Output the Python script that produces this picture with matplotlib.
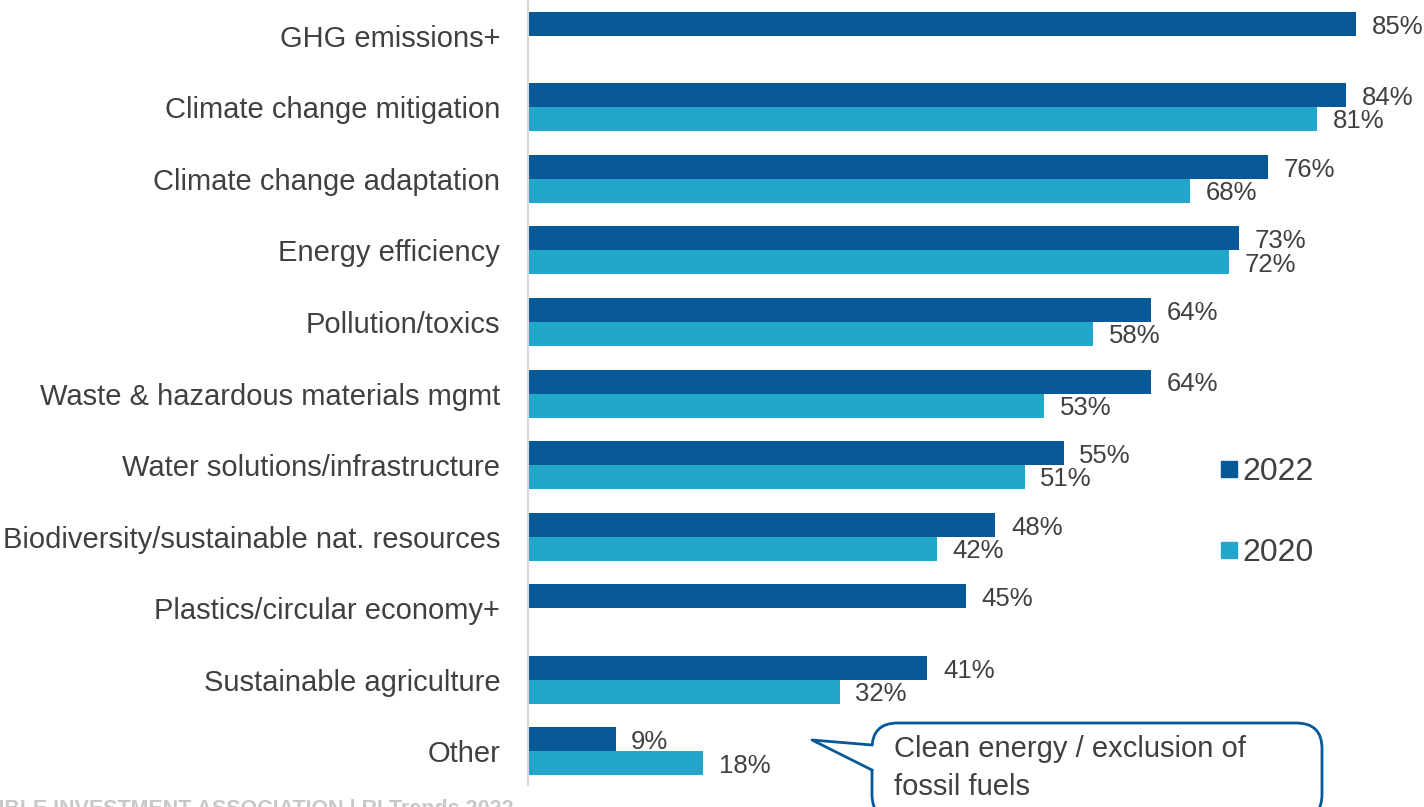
import numpy as np
import matplotlib.pyplot as plt
from matplotlib.patches import FancyBboxPatch, Polygon
from matplotlib.lines import Line2D

plt.rcParams['font.family'] = ['Liberation Sans', 'DejaVu Sans']

categories = ['GHG emissions+', 'Climate change mitigation', 'Climate change adaptation',
              'Energy efficiency', 'Pollution/toxics', 'Waste & hazardous materials mgmt',
              'Water solutions/infrastructure', 'Biodiversity/sustainable nat. resources',
              'Plastics/circular economy+', 'Sustainable agriculture', 'Other']
vals_2022 = [85, 84, 76, 73, 64, 64, 55, 48, 45, 41, 9]
vals_2020 = [None, 81, 68, 72, 58, 53, 51, 42, None, 32, 18]

c2022 = '#065896'
c2020 = '#22a7cb'
txt = '#404040'

W, H = 1424, 807
fig = plt.figure(figsize=(W / 100, H / 100), dpi=100)
ax = fig.add_axes([528 / W, 22 / H, 1 - 528 / W, 1 - 22 / H])

y = np.arange(len(categories))
bh = 0.335
for i, (a, b) in enumerate(zip(vals_2022, vals_2020)):
    ax.barh(y[i] - bh / 2, a, height=bh, color=c2022)
    ax.text(a + 1.6, y[i] - bh / 2 + 0.04, f'{a}%', va='center', ha='left', fontsize=18.5, color=txt)
    if b is not None:
        ax.barh(y[i] + bh / 2, b, height=bh, color=c2020)
        ax.text(b + 1.6, y[i] + bh / 2 + 0.03, f'{b}%', va='center', ha='left', fontsize=18.5, color=txt)

ax.set_xlim(0, 92)
ax.set_ylim(10.47, -0.5)
ax.set_yticks(y)
ax.set_yticklabels(categories, fontsize=21, color=txt)
ax.tick_params(axis='y', length=0, pad=20)
ax.set_xticks([])
for s in ['top', 'right', 'bottom']:
    ax.spines[s].set_visible(False)
ax.spines['left'].set_color('#d9d9d9')
ax.spines['left'].set_linewidth(1.5)

handles = [Line2D([], [], marker='s', ls='', color=c2022, markersize=12),
           Line2D([], [], marker='s', ls='', color=c2020, markersize=12)]
fig.legend(handles, ['2022', '2020'], loc='upper left', bbox_to_anchor=(1191 / W, 1 - 428 / H),
           frameon=False, fontsize=23, labelspacing=1.6, handlelength=0.6, handletextpad=0.12,
           labelcolor=txt)


def px(x, yy):
    return (x / W, 1 - yy / H)


# callout box
bx0, by0, bx1, by1 = 872, 723, 1322, 820
box = FancyBboxPatch(px(bx0, by1), (bx1 - bx0) / W, (by1 - by0) / H,
                     boxstyle='round,pad=0,rounding_size=0.018', transform=fig.transFigure,
                     facecolor='white', edgecolor=c2022, linewidth=2, mutation_aspect=W / H)
fig.add_artist(box)
tip = px(812, 740)
top_b = px(bx0, 745)
bot_b = px(bx0, 770)
fig.add_artist(Polygon([top_b, tip, bot_b, px(bx0 + 3, 770), px(bx0 + 3, 745)], closed=True,
                       transform=fig.transFigure, facecolor='white', edgecolor='none'))
fig.add_artist(Line2D([top_b[0], tip[0], bot_b[0]], [top_b[1], tip[1], bot_b[1]],
                      transform=fig.transFigure, color=c2022, linewidth=2))
fig.text(*px(894, 768), 'Clean energy / exclusion of\nfossil fuels', fontsize=21, color=txt,
         va='center', ha='left', linespacing=1.45)

# source footer, runs off the bottom left corner
fig.text(*px(514, 799), 'RESPONSIBLE INVESTMENT ASSOCIATION | RI Trends 2022', fontsize=15.5,
         fontweight='bold', color='#c8c8c8', ha='right', va='top')

fig.savefig('out.png', dpi=100)
